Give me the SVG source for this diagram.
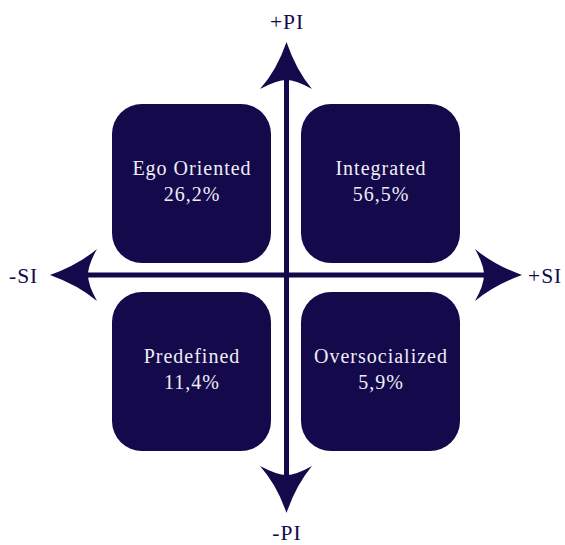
<svg xmlns="http://www.w3.org/2000/svg" width="565" height="545" viewBox="0 0 565 545">
  <style>
    .box { fill: #13094b; }
    .lbl { font-family: "Liberation Serif", "DejaVu Serif", serif; font-size: 20px; letter-spacing: 1px; fill: #f0edf5; text-anchor: middle; }
    .ax { font-family: "Liberation Serif", "DejaVu Serif", serif; font-size: 21.5px; letter-spacing: 1px; fill: #13094b; }
    .shaft { stroke: #13094b; stroke-width: 5; fill: none; }
    .head { fill: #13094b; }
  </style>
  <rect width="565" height="545" fill="#ffffff"/>

  <g id="ego-oriented">
    <rect class="box" x="112" y="104" width="159" height="159" rx="30"/>
    <text class="lbl" x="192" y="175">Ego Oriented</text>
    <text class="lbl" x="192" y="201">26,2%</text>
  </g>
  <g id="integrated">
    <rect class="box" x="301" y="104" width="159" height="159" rx="30"/>
    <text class="lbl" x="381" y="175">Integrated</text>
    <text class="lbl" x="381" y="201">56,5%</text>
  </g>
  <g id="predefined">
    <rect class="box" x="112" y="292" width="159" height="159" rx="30"/>
    <text class="lbl" x="192" y="363">Predefined</text>
    <text class="lbl" x="192" y="389">11,4%</text>
  </g>
  <g id="oversocialized">
    <rect class="box" x="301" y="292" width="159" height="159" rx="30"/>
    <text class="lbl" x="381" y="363">Oversocialized</text>
    <text class="lbl" x="381" y="389">5,9%</text>
  </g>

  <g id="axes">
    <line class="shaft" x1="286.5" y1="75" x2="286.5" y2="480"/>
    <line class="shaft" x1="85" y1="275" x2="490" y2="275"/>
    <!-- +PI head -->
    <path class="head" d="M286.5,42 Q296,70 312,89 Q296,80 286.5,80 Q277,80 260,89 Q277,70 286.5,42 Z"/>
    <!-- -PI head -->
    <path class="head" d="M286.5,513 Q296,485 312,466 Q296,475 286.5,475 Q277,475 260,466 Q277,485 286.5,513 Z"/>
    <!-- -SI head -->
    <path class="head" d="M50,275 Q78,265 97,249 Q88,265 88,275 Q88,285 97,301 Q78,285 50,275 Z"/>
    <!-- +SI head -->
    <path class="head" d="M522,275 Q494,265 475,249 Q484,265 484,275 Q484,285 475,301 Q494,285 522,275 Z"/>
  </g>

  <g id="axis-labels">
    <text class="ax" x="287" y="29" text-anchor="middle">+PI</text>
    <text class="ax" x="287" y="540" text-anchor="middle">-PI</text>
    <text class="ax" x="9" y="283">-SI</text>
    <text class="ax" x="528" y="283">+SI</text>
  </g>
</svg>
